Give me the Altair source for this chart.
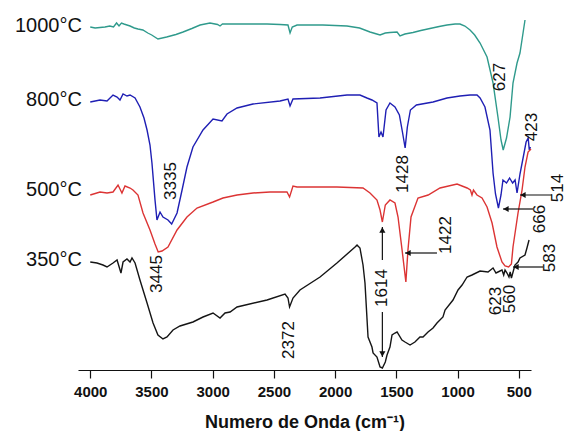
import altair as alt
import pandas as pd

# FTIR spectra of samples calcined at different temperatures.
# Each entry is (wavenumber in cm-1, transmittance in arbitrary units, curves offset vertically).
spec_1000 = [
    (4000, 343), (3960, 342), (3920, 342.5), (3880, 343), (3840, 344), (3810, 343),
    (3785, 347), (3765, 344), (3745, 347), (3725, 346), (3700, 345), (3675, 344),
    (3640, 342), (3610, 341), (3570, 340), (3530, 337), (3498, 335), (3447, 331),
    (3376, 333), (3300, 335.5), (3242, 338), (3170, 341.5), (3103, 345), (3022, 347),
    (2960, 345.5), (2940, 344), (2920, 346), (2834, 346), (2700, 346), (2556, 346),
    (2450, 345.5), (2385, 345), (2368, 337), (2350, 343), (2311, 345), (2100, 345),
    (1903, 344), (1800, 342), (1715, 338), (1660, 336), (1633, 335), (1590, 337),
    (1552, 337.5), (1494, 338), (1470, 334), (1430, 336), (1364, 337.5), (1300, 339.5),
    (1225, 341.5), (1150, 343.5), (1086, 345), (1020, 346), (980, 346), (940, 344),
    (898, 340), (860, 335), (816, 327), (759, 313), (710, 287), (670, 253), (645, 230),
    (627, 220), (600, 232), (571, 253), (547, 287), (514, 307), (490, 317), (465, 337),
    (449, 350),
]
spec_800 = [
    (4000, 268), (3920, 270), (3863, 269), (3814, 275), (3781, 273), (3757, 270),
    (3732, 276), (3700, 274), (3675, 275), (3634, 272), (3594, 263), (3561, 252),
    (3536, 240), (3512, 225), (3496, 207), (3471, 170), (3455, 150), (3430, 158),
    (3406, 153), (3365, 150), (3335, 146), (3291, 157), (3250, 180), (3210, 203),
    (3161, 223), (3079, 240), (2997, 251), (2924, 249), (2883, 256), (2801, 262),
    (2671, 266), (2450, 269), (2385, 271), (2368, 264), (2344, 271), (2123, 272),
    (1903, 275), (1797, 275), (1740, 272), (1699, 270), (1658, 267), (1642, 233),
    (1625, 238), (1609, 233), (1584, 260), (1552, 267), (1511, 263), (1475, 255),
    (1450, 238), (1428, 222), (1410, 243), (1385, 260), (1336, 265), (1200, 268),
    (1086, 272), (980, 274), (898, 275), (841, 275), (816, 272), (776, 263), (735, 240),
    (710, 197), (690, 176), (666, 162), (645, 175), (629, 190), (600, 187), (575, 192),
    (550, 187), (530, 190), (514, 177), (490, 196), (460, 215), (440, 228), (423, 232),
    (414, 220), (405, 223),
]
spec_500 = [
    (4000, 175), (3920, 178), (3863, 177), (3814, 178), (3773, 185), (3741, 177),
    (3716, 184), (3675, 182), (3651, 180), (3610, 175), (3569, 157), (3512, 140),
    (3471, 126), (3445, 118), (3414, 119), (3365, 123), (3291, 140), (3210, 153),
    (3128, 162), (2997, 168), (2916, 172), (2801, 175), (2671, 177), (2532, 178),
    (2393, 178), (2372, 173), (2344, 184), (2311, 183), (1985, 183), (1772, 182),
    (1715, 177), (1658, 170), (1633, 160), (1614, 148), (1590, 165), (1552, 170),
    (1511, 167), (1486, 153), (1453, 120), (1422, 88), (1405, 120), (1380, 153),
    (1323, 172), (1240, 175), (1143, 182), (1004, 186), (922, 182), (895, 180),
    (882, 175), (870, 180), (841, 175), (800, 172), (759, 163), (718, 147), (678, 123),
    (637, 108), (612, 104), (583, 103), (560, 106), (547, 123), (506, 157), (473, 180),
    (449, 203), (424, 218), (400, 221),
]
spec_350 = [
    (4000, 108), (3945, 107), (3896, 105), (3863, 103), (3814, 107), (3781, 110),
    (3749, 97), (3732, 108), (3700, 111), (3675, 108), (3659, 112), (3634, 107),
    (3594, 90), (3536, 67), (3487, 47), (3447, 35), (3406, 31), (3373, 33), (3324, 40),
    (3267, 44), (3161, 48), (3079, 53), (2997, 57), (2940, 52), (2899, 57), (2858, 58),
    (2801, 63), (2556, 70), (2409, 76), (2385, 72), (2372, 63), (2344, 72), (2287, 80),
    (2123, 93), (1985, 107), (1837, 123), (1821, 125), (1797, 122), (1772, 105),
    (1756, 87), (1731, 33), (1699, 23), (1690, 17), (1658, 13), (1633, 3), (1614, 2),
    (1590, 8), (1576, 15), (1552, 23), (1535, 35), (1511, 37), (1494, 38), (1454, 30),
    (1429, 28), (1388, 25), (1348, 28), (1307, 33), (1282, 33), (1241, 38), (1200, 42),
    (1168, 47), (1119, 53), (1102, 60), (1037, 70), (996, 80), (963, 85), (922, 93),
    (882, 95), (816, 99), (751, 98), (710, 102), (686, 97), (653, 99), (637, 100),
    (623, 95), (612, 100), (596, 97), (580, 93), (570, 98), (560, 92), (531, 105),
    (506, 108), (490, 112), (449, 115), (433, 122), (416, 130),
]

series_names = ["1000°C", "800°C", "500°C", "350°C"]
series_colors = ["#2f9a8c", "#1f1fb4", "#dc3434", "#151515"]
series_label_wn = [4068, 4068, 4068, 4068]
series_label_t = [344, 270, 180, 110]

# Band assignments written next to the peaks (text, wavenumber, transmittance)
band_text = ["627", "423", "514", "666", "583", "1422", "1614", "1428",
             "3335", "3445", "2372", "623", "560"]
band_wn = [653, 392, 180, 326, 245, 1094, 1614, 1445, 3340, 3455, 2377, 686, 571]
band_t = [293, 243, 182, 151, 112, 135, 82, 196, 189, 96, 30, 69, 71]

# Horizontal pointer arrows: tail wavenumber -> head wavenumber at one transmittance
harrow_from = [384, 228, 302, 1168]
harrow_to = [629, 490, 547, 1429]
harrow_t = [161, 175, 103, 117]

# Double arrow on the 1614 band (upper half points up, lower half points down)
varrow_wn = [1614, 1614]
varrow_from = [110, 58]
varrow_to = [143, 13]
varrow_dir = ["up", "down"]

tick_values = list(range(4000, 499, -250))

FONT = "Liberation Sans, Arial, Helvetica, sans-serif"

rows = []
for name, spec in zip(series_names, [spec_1000, spec_800, spec_500, spec_350]):
    for w, t in spec:
        rows.append({"wn": w, "t": t, "serie": name})
spectra = pd.DataFrame(rows)

labels_df = pd.DataFrame({"serie": series_names, "wn": series_label_wn, "t": series_label_t})
bands_df = pd.DataFrame({"txt": band_text, "wn": band_wn, "t": band_t})
harrow_df = pd.DataFrame({"x1": harrow_from, "x2": harrow_to, "t": harrow_t})
varrow_df = pd.DataFrame({"wn": varrow_wn, "y1": varrow_from, "y2": varrow_to, "dir": varrow_dir})

x_scale = alt.Scale(domain=[4100, 400], nice=False, zero=False)
y_scale = alt.Scale(domain=[0, 370], nice=False, zero=False)
color_scale = alt.Scale(domain=series_names, range=series_colors)

x_axis = alt.Axis(
    values=tick_values,
    format="d",
    labelExpr="datum.value % 500 === 0 ? datum.label : ''",
    tickSize={"condition": {"test": "datum.value % 500 === 0", "value": 8}, "value": 5},
    tickColor="#111111",
    tickWidth=1.2,
    domainColor="#111111",
    domainWidth=1.2,
    grid=False,
    labelFont=FONT,
    labelFontSize=15,
    labelFontWeight="bold",
    labelColor="#111111",
    labelPadding=6,
    title="Numero de Onda (cm⁻¹)",
    titleFont=FONT,
    titleFontSize=18,
    titleFontWeight="bold",
    titleColor="#111111",
    titlePadding=14,
)

lines = alt.Chart(spectra).mark_line(strokeWidth=1.4).encode(
    x=alt.X("wn:Q", scale=x_scale, axis=x_axis),
    y=alt.Y("t:Q", scale=y_scale, axis=None),
    color=alt.Color("serie:N", scale=color_scale, legend=None),
    detail="serie:N",
)

series_labels = alt.Chart(labels_df).mark_text(
    align="right", baseline="middle", font="Arial", fontWeight="normal",
    fontSize=20, color="#111111"
).encode(x=alt.X("wn:Q", scale=x_scale), y=alt.Y("t:Q", scale=y_scale), text="serie:N")

band_labels = alt.Chart(bands_df).mark_text(
    align="center", baseline="middle", angle=270, font=FONT, fontSize=17, color="#111111"
).encode(x=alt.X("wn:Q", scale=x_scale), y=alt.Y("t:Q", scale=y_scale), text="txt:N")

harrow_lines = alt.Chart(harrow_df).mark_rule(color="#111111", strokeWidth=1.2).encode(
    x=alt.X("x1:Q", scale=x_scale), x2="x2:Q", y=alt.Y("t:Q", scale=y_scale)
)
harrow_heads = alt.Chart(harrow_df).mark_point(
    shape="triangle-left", filled=True, size=38, color="#111111", opacity=1, xOffset=3
).encode(x=alt.X("x2:Q", scale=x_scale), y=alt.Y("t:Q", scale=y_scale))

varrow_lines = alt.Chart(varrow_df).mark_rule(color="#111111", strokeWidth=1.2).encode(
    x=alt.X("wn:Q", scale=x_scale), y=alt.Y("y1:Q", scale=y_scale), y2="y2:Q"
)
up_heads = alt.Chart(varrow_df).transform_filter(alt.datum.dir == "up").mark_point(
    shape="triangle-up", filled=True, size=38, color="#111111", opacity=1, yOffset=3
).encode(x=alt.X("wn:Q", scale=x_scale), y=alt.Y("y2:Q", scale=y_scale))
down_heads = alt.Chart(varrow_df).transform_filter(alt.datum.dir == "down").mark_point(
    shape="triangle-down", filled=True, size=38, color="#111111", opacity=1, yOffset=-3
).encode(x=alt.X("wn:Q", scale=x_scale), y=alt.Y("y2:Q", scale=y_scale))

chart = alt.layer(
    lines, series_labels, band_labels, harrow_lines, harrow_heads,
    varrow_lines, up_heads, down_heads,
).properties(
    width=453,
    height=370,
    autosize=alt.AutoSizeParams(type="none"),
    padding={"left": 78, "top": 0, "right": 37, "bottom": 61},
    background="white",
).configure_view(stroke=None)

chart.save("out.html", embed_options={"renderer": "svg", "actions": False})
